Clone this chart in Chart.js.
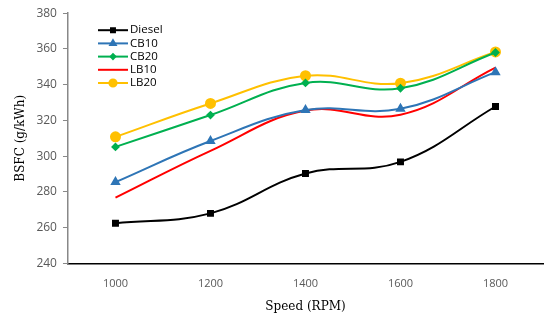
<!DOCTYPE html>
<html>
<head>
<meta charset="utf-8">
<script src="https://cdn.jsdelivr.net/npm/chart.js@4"></script>
<style>
  html, body { margin: 0; padding: 0; background: #fff; }
  #wrap { width: 550px; height: 321px; }
</style>
</head>
<body>
<div id="wrap"><canvas id="myChart" width="550" height="321"></canvas></div>
<script>
const ctx = document.getElementById('myChart');

const speeds = ['1000', '1200', '1400', '1600', '1800'];
const diesel = [262.5, 268, 290.3, 296.8, 327.8];
const cb10 = [285.5, 308.5, 325.8, 326.5, 347];
const cb20 = [305.2, 323, 341, 338, 358];
const lb10 = [276.8, 303, 325.5, 323.2, 349.6];
const lb20 = [310.8, 329.5, 345, 340.8, 358.3];
const yTicks = [240, 260, 280, 300, 320, 340, 360, 380];

function series(label, values, color, style, radius) {
    return {
        label: label,
        data: values,
        borderColor: color,
        backgroundColor: color,
        borderWidth: 2,
        pointStyle: style,
        pointRadius: radius,
        pointHoverRadius: radius,
        tension: 0.4
    };
}

// legend drawn inside the plot, top left
const innerLegend = {
    id: 'innerLegend',
    afterDraw(chart) {
        const c = chart.ctx;
        const x0 = chart.chartArea.left + 30;
        let y = chart.chartArea.top + 17;
        c.save();
        chart.data.datasets.forEach(ds => {
            c.strokeStyle = ds.borderColor;
            c.lineWidth = 2;
            c.beginPath();
            c.moveTo(x0, y);
            c.lineTo(x0 + 30, y);
            c.stroke();
            if (ds.pointRadius > 0) {
                Chart.helpers.drawPoint(c, {
                    pointStyle: ds.pointStyle,
                    radius: ds.pointRadius * 0.8,
                    borderWidth: 1
                }, x0 + 15, y);
                c.fillStyle = ds.backgroundColor;
                c.fill();
            }
            c.fillStyle = '#000';
            c.font = '11.5px "Open Sans", sans-serif';
            c.textBaseline = 'middle';
            c.fillText(ds.label, x0 + 32, y);
            y += 13.2;
        });
        c.restore();
    }
};

new Chart(ctx, {
    type: 'line',
    data: {
        labels: speeds,
        datasets: [
            series('Diesel', diesel, '#000000', 'rect', 3.5),
            series('CB10', cb10, '#2E75B6', 'triangle', 4),
            series('CB20', cb20, '#00B050', 'rectRot', 3),
            series('LB10', lb10, '#FF0000', 'circle', 0),
            series('LB20', lb20, '#FFC000', 'circle', 4.5)
        ]
    },
    options: {
        responsive: false,
        animation: false,
        layout: { padding: { top: 12, right: 7, left: 10, bottom: 3 } },
        plugins: {
            legend: { display: false },
            tooltip: { enabled: false }
        },
        scales: {
            x: {
                offset: true,
                grid: { display: false },
                border: { display: true, color: '#000', width: 1.5 },
                ticks: { color: '#595959', font: { family: 'Open Sans', size: 11 }, padding: 6 },
                title: {
                    display: true,
                    text: 'Speed (RPM)',
                    color: '#000',
                    font: { family: 'DejaVu Serif', size: 12 },
                    padding: { top: 3, bottom: 4 }
                }
            },
            y: {
                min: 240,
                max: 380,
                afterBuildTicks(axis) {
                    axis.ticks = yTicks.map(v => ({ value: v }));
                },
                grid: { drawOnChartArea: false, drawTicks: true, tickLength: 5, color: '#888' },
                border: { display: true, color: '#888', width: 1.5 },
                ticks: { color: '#595959', font: { family: 'Open Sans', size: 12 }, padding: 6 },
                title: {
                    display: true,
                    text: 'BSFC (g/kWh)',
                    color: '#000',
                    font: { family: 'DejaVu Serif', size: 12 },
                    padding: { bottom: 2 }
                }
            }
        }
    },
    plugins: [innerLegend]
});
</script>
</body>
</html>
